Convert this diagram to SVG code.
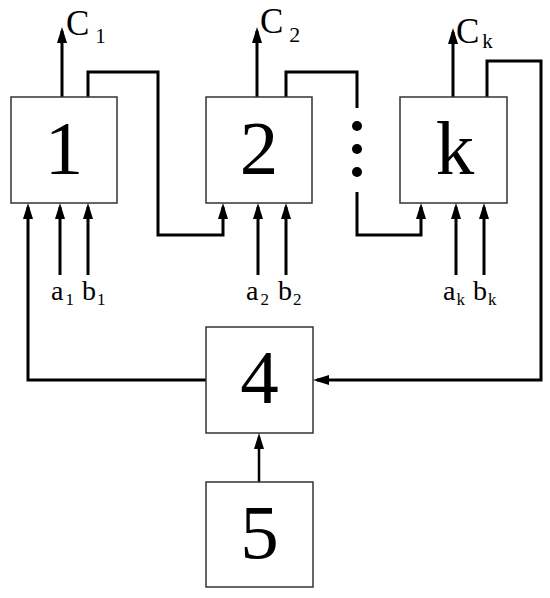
<svg xmlns="http://www.w3.org/2000/svg" width="550" height="598" viewBox="0 0 550 598">
<defs>
<marker id="ah" markerUnits="userSpaceOnUse" markerWidth="18" markerHeight="12" refX="12" refY="5" orient="auto">
<path d="M0,0 L16,5 L0,10 z" fill="#000"/>
</marker>
<style>
.box{fill:#fff;stroke:#333;stroke-width:1.5}
.num{font-family:"Liberation Serif",serif;font-size:77px;text-anchor:middle;fill:#000}
.c{stroke:#000;stroke-width:3;fill:none}
.a{marker-end:url(#ah)}
.lbl{font-family:"Liberation Serif",serif;fill:#000}
</style>
</defs>
<rect width="550" height="598" fill="#fff"/>
<g id="connectors">
<path class="c a" d="M62,97 V31"/>
<path class="c a" d="M257,97 V31"/>
<path class="c a" d="M453,97 V32"/>
<path class="c a" d="M88,97 V72 H158 V235 H223 V207"/>
<path class="c" d="M286,97 V72 H357 V108"/>
<path class="c a" d="M357,192 V235 H421 V207"/>
<path class="c a" d="M487,97 V61 H541 V380 H317"/>
<path class="c a" d="M206,380 H28 V207"/>
<path class="c a" d="M259,482 V437" style="stroke-width:2.5"/>
<path class="c a" d="M60,275 V207"/>
<path class="c a" d="M88,275 V207"/>
<path class="c a" d="M258,275 V207"/>
<path class="c a" d="M286,275 V207"/>
<path class="c a" d="M456,275 V207"/>
<path class="c a" d="M484,275 V207"/>
<circle cx="357" cy="126" r="5"/>
<circle cx="357" cy="149" r="5"/>
<circle cx="357" cy="172" r="5"/>
</g>
<g id="node1"><rect class="box" x="11" y="97" width="106" height="106"/><text class="num" x="64" y="174">1</text></g>
<g id="node2"><rect class="box" x="206" y="97" width="106" height="106"/><text class="num" x="259" y="174">2</text></g>
<g id="nodek"><rect class="box" x="400" y="97" width="107" height="106"/><text class="num" x="455" y="174">k</text></g>
<g id="node4"><rect class="box" x="206" y="327" width="107" height="106"/><text class="num" x="259.5" y="403">4</text></g>
<g id="node5"><rect class="box" x="206" y="482" width="107" height="105"/><text class="num" x="259.5" y="558">5</text></g>
<g id="labels" class="lbl">
<text x="66" y="35" font-size="35">C<tspan dx="6" dy="8" font-size="21">1</tspan></text>
<text x="260" y="33" font-size="35">C<tspan dx="6" dy="9" font-size="22">2</tspan></text>
<text x="456" y="43" font-size="35">C<tspan dx="3" dy="5" font-size="21">k</tspan></text>
<text x="51" y="300" font-size="28">a<tspan dx="2" dy="5" font-size="17">1</tspan></text>
<text x="82" y="300" font-size="28">b<tspan dx="1" dy="5" font-size="17">1</tspan></text>
<text x="246" y="300" font-size="28">a<tspan dx="2" dy="5" font-size="17">2</tspan></text>
<text x="278" y="300" font-size="28">b<tspan dx="1" dy="5" font-size="17">2</tspan></text>
<text x="443" y="300" font-size="28">a<tspan dx="1" dy="5" font-size="17">k</tspan></text>
<text x="473" y="300" font-size="28">b<tspan dx="1" dy="5" font-size="17">k</tspan></text>
</g>
</svg>
